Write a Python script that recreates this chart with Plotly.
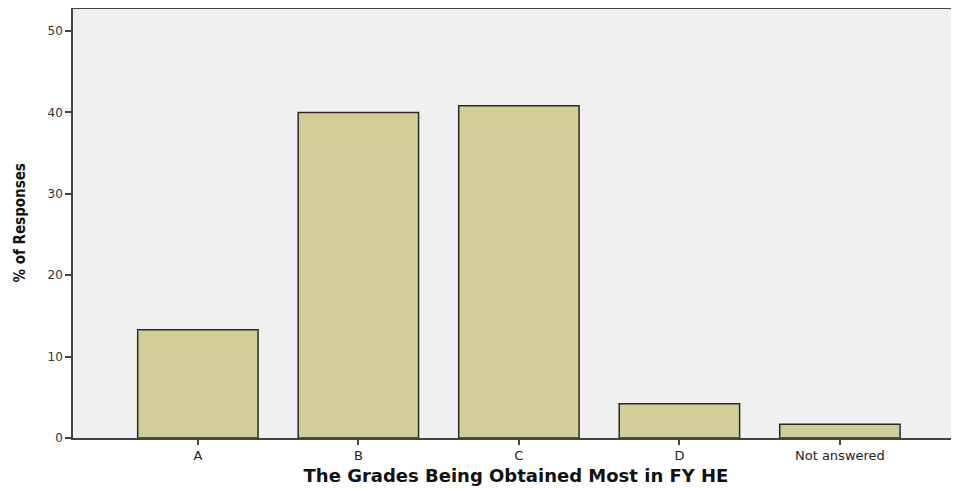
import plotly.graph_objects as go

categories = ["A", "B", "C", "D", "Not answered"]
values = [13.3, 40.0, 40.8, 4.2, 1.7]
y_ticks = [0, 10, 20, 30, 40, 50]
x_title = "The Grades Being Obtained Most in FY HE"
y_title = "% of Responses"

fig = go.Figure(go.Bar(
    x=list(range(len(categories))),
    y=values,
    width=0.75,
    marker=dict(color="#d3ce97", line=dict(color="#2a2a22", width=1.5)),
))

fig.update_layout(
    width=951, height=481,
    margin=dict(l=65, r=0, t=1, b=51),
    paper_bgcolor="white",
    plot_bgcolor="#f0f0f0",
    showlegend=False,
    font=dict(family="DejaVu Sans, sans-serif", color="#333333", size=12),
    xaxis=dict(
        range=[-0.778, 4.742],
        tickmode="array",
        tickvals=list(range(len(categories))),
        ticktext=categories,
        ticks="outside", ticklen=5, tickwidth=2, tickcolor="#444444",
        showline=True, linecolor="#444444", linewidth=1.5, mirror=True,
        showgrid=False, zeroline=False,
        tickfont=dict(size=13, color="#222222", family="DejaVu Sans, sans-serif"),
        title=dict(text="<b>" + x_title + "</b>",
                   font=dict(size=18, color="#111111", family="DejaVu Sans, sans-serif"),
                   standoff=7),
    ),
    yaxis=dict(
        range=[0, 52.7],
        tickmode="array", tickvals=y_ticks,
        ticks="outside", ticklen=6, tickwidth=1.5, tickcolor="#444444",
        showline=True, linecolor="#444444", linewidth=1.5,
        showgrid=False, zeroline=False,
        tickfont=dict(size=12, color="#333333", family="DejaVu Sans, sans-serif"),
    ),
    annotations=[dict(
        text="<b>" + y_title + "</b>",
        xref="paper", yref="paper", x=0, y=0.5,
        xanchor="right", yanchor="middle", xshift=-43,
        textangle=-90, showarrow=False,
        font=dict(size=15, color="#111111", family="DejaVu Sans Condensed, DejaVu Sans, sans-serif"),
    )],
)

fig.write_html("out.html")
